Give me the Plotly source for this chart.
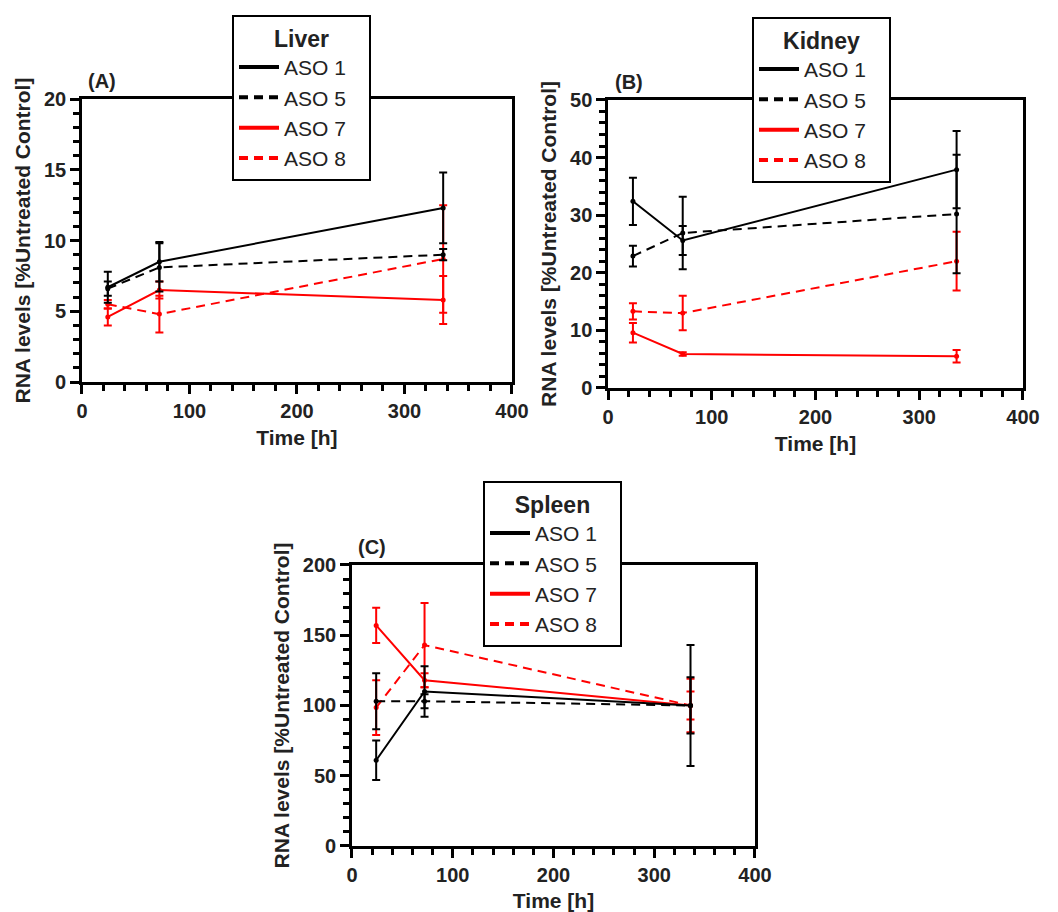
import plotly.graph_objects as go

# ---------------- data ----------------
time_h = [24, 72, 336]
series_names = ["ASO 1", "ASO 5", "ASO 7", "ASO 8"]

liver_aso1 = [6.7, 8.5, 12.3]
liver_aso1_err = [1.1, 1.4, 2.5]
liver_aso5 = [6.6, 8.1, 9.0]
liver_aso5_err = [0.5, 1.7, 0.4]
liver_aso7 = [4.6, 6.5, 5.8]
liver_aso7_err = [0.6, 0.6, 1.7]
liver_aso8 = [5.5, 4.8, 8.7]
liver_aso8_err = [0.3, 1.3, 3.8]

kidney_aso1 = [32.4, 25.6, 37.9]
kidney_aso1_err = [4.1, 2.5, 6.7]
kidney_aso5 = [22.9, 26.9, 30.2]
kidney_aso5_err = [1.8, 6.3, 10.3]
kidney_aso7 = [9.6, 5.9, 5.5]
kidney_aso7_err = [1.7, 0.3, 1.1]
kidney_aso8 = [13.3, 13.0, 22.0]
kidney_aso8_err = [1.4, 3.0, 5.1]

spleen_aso1 = [61, 110, 100]
spleen_aso1_err = [14, 18, 43]
spleen_aso5 = [103, 103, 100]
spleen_aso5_err = [20, 5, 20]
spleen_aso7 = [157, 118, 100]
spleen_aso7_err = [12.5, 5, 10]
spleen_aso8 = [98.5, 143, 100]
spleen_aso8_err = [19.5, 30, 19]

FONT = "Arial, Liberation Sans, sans-serif"
colors = ["black", "black", "red", "red"]
dashes = ["solid", "9px,6px", "solid", "9px,6px"]
PAD = "\u00a0\u00a0\u00a0"  # trailing space inside the legend box

panels = [
    dict(name="Liver", label="(A)", xa="x", ya="y", legend="legend",
         vals=[liver_aso1, liver_aso5, liver_aso7, liver_aso8],
         errs=[liver_aso1_err, liver_aso5_err, liver_aso7_err, liver_aso8_err]),
    dict(name="Kidney", label="(B)", xa="x2", ya="y2", legend="legend2",
         vals=[kidney_aso1, kidney_aso5, kidney_aso7, kidney_aso8],
         errs=[kidney_aso1_err, kidney_aso5_err, kidney_aso7_err, kidney_aso8_err]),
    dict(name="Spleen", label="(C)", xa="x3", ya="y3", legend="legend3",
         vals=[spleen_aso1, spleen_aso5, spleen_aso7, spleen_aso8],
         errs=[spleen_aso1_err, spleen_aso5_err, spleen_aso7_err, spleen_aso8_err]),
]

fig = go.Figure()

for p in panels:
    for i in [3, 2, 1, 0]:
        fig.add_trace(go.Scatter(
            x=time_h, y=p["vals"][i], xaxis=p["xa"], yaxis=p["ya"],
            mode="lines+markers", showlegend=False, name=series_names[i],
            line=dict(color=colors[i], width=2, dash=dashes[i]),
            marker=dict(color=colors[i], size=5, symbol="circle"),
            error_y=dict(type="data", array=p["errs"][i], visible=True,
                         color=colors[i], thickness=2, width=4),
        ))
    for i in range(4):
        fig.add_trace(go.Scatter(
            x=[None], y=[None], xaxis=p["xa"], yaxis=p["ya"],
            mode="lines", name=series_names[i] + PAD, legend=p["legend"],
            line=dict(color=colors[i], width=4, dash=dashes[i]),
        ))

TITLE_FONT = dict(family=FONT, size=21, color="#222", weight="bold")
TICK_FONT = dict(family=FONT, size=20, color="#222", weight="bold")


def minor(dt):
    return dict(tickmode="linear", tick0=0, dtick=dt, ticks="outside",
                ticklen=6, tickwidth=3, tickcolor="#000000", showgrid=False)


def xaxis(domain, anchor, mdt):
    return dict(domain=domain, anchor=anchor, range=[0, 400], automargin=False,
                tickmode="linear", tick0=0, dtick=100,
                showline=True, linecolor="#000000", linewidth=2.5, mirror=True,
                ticks="outside", ticklen=9, tickwidth=3, tickcolor="#000000",
                showgrid=False, zeroline=False, tickfont=TICK_FONT,
                minor=minor(mdt),
                title=dict(text="Time [h]", standoff=10, font=TITLE_FONT))


def yaxis(domain, anchor, rng, dt, mdt):
    return dict(domain=domain, anchor=anchor, range=rng, automargin=False,
                tickmode="linear", tick0=0, dtick=dt,
                showline=True, linecolor="#000000", linewidth=2.5, mirror=True,
                ticks="outside", ticklen=9, tickwidth=3, tickcolor="#000000",
                showgrid=False, zeroline=False, tickfont=TICK_FONT,
                minor=minor(mdt),
                title=dict(text="RNA levels [%Untreated Control]", standoff=8,
                           font=TITLE_FONT))


def legend_cfg(title, x, y):
    return dict(
        x=x, y=y, xanchor="left", yanchor="top", xref="paper", yref="paper",
        bgcolor="white", bordercolor="black", borderwidth=2,
        font=dict(family=FONT, size=21, color="#222"),
        title=dict(text=title, side="top center",
                   font=dict(family=FONT, size=23, color="#222", weight="bold")),
        tracegroupgap=0, itemwidth=40,
    )


def label(text, x, y):
    return dict(text="<b>" + text + "</b>", x=x / 1058, y=1 - y / 912,
                xref="paper", yref="paper", xanchor="center", yanchor="middle",
                showarrow=False, font=dict(family=FONT, size=20, color="#222"))


fig.update_layout(
    width=1058, height=912,
    margin=dict(l=0, r=0, t=0, b=0, pad=0),
    plot_bgcolor="white", paper_bgcolor="white",
    xaxis=xaxis([0.0775, 0.4839], "y", 20),
    yaxis=yaxis([0.5811, 0.8914], "x", [0, 20], 5, 1),
    xaxis2=xaxis([0.5747, 0.9669], "y2", 20),
    yaxis2=yaxis([0.5746, 0.8904], "x2", [0, 50], 10, 2),
    xaxis3=xaxis([0.3327, 0.7136], "y3", 20),
    yaxis3=yaxis([0.0724, 0.3805], "x3", [0, 200], 50, 10),
    legend=legend_cfg("Liver", 232 / 1058, 1 - 15 / 912),
    legend2=legend_cfg("Kidney", 752 / 1058, 1 - 17 / 912),
    legend3=legend_cfg("Spleen", 483 / 1058, 1 - 481 / 912),
    annotations=[label("(A)", 102, 81), label("(B)", 629, 82), label("(C)", 372, 547)],
)

fig.write_html("out.html")
